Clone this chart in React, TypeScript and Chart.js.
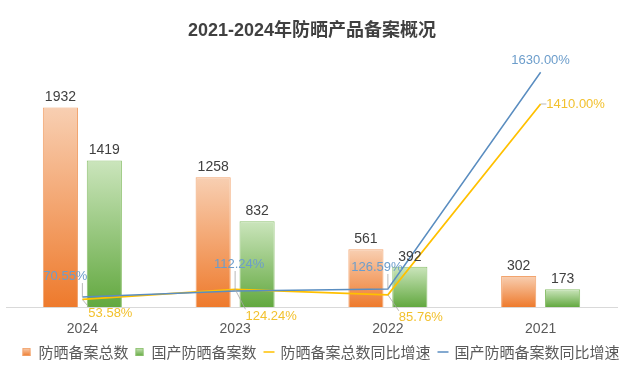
import React, { useEffect, useRef } from 'react';
import { Chart, registerables } from 'chart.js';

Chart.register(...registerables);

// ---------------- data ----------------
const categories = ['2024', '2023', '2022', '2021'];
const totalFilings = [1932, 1258, 561, 302];
const domesticFilings = [1419, 832, 392, 173];
const totalGrowth = [53.58, 124.24, 85.76, 1410.0];
const domesticGrowth = [70.55, 112.24, 126.59, 1630.0];
const seriesNames = ['防晒备案总数', '国产防晒备案数', '防晒备案总数同比增速', '国产防晒备案数同比增速'];
const titleText = '2021-2024年防晒产品备案概况';

// ---------------- styles ----------------
const ORANGE_LIGHT = '#F8CFB2';
const ORANGE_DARK = '#EE7A2C';
const ORANGE_BORDER = '#F2A46E';
const GREEN_LIGHT = '#CBE5BC';
const GREEN_DARK = '#62A83F';
const GREEN_BORDER = '#8DC16F';
const YELLOW = '#FFC000';
const BLUE = '#5A8DC0';
const YELLOW_TEXT = '#F2C12E';
const BLUE_TEXT = '#6C9DCB';
const LATIN = '"Liberation Sans", "Noto Sans CJK SC", sans-serif';
const CJK = '"Noto Sans CJK SC", "Liberation Sans", sans-serif';

// label offsets (dx, dy) of the percent labels from their points
const totalGrowthLabelOffset = [[28, 14], [36, 27], [33, 23], [35, 0]];
const domesticGrowthLabelOffset = [[-17, -21], [4, -27], [-11, -22], [0, -12]];

function barGradient(light: string, dark: string) {
  return (c: any) => {
    const chart = c.chart;
    const scale = chart.scales && chart.scales.y;
    if (c.type !== 'data' || !scale || !chart.chartArea) return dark;
    const v = c.raw as number;
    const top = scale.getPixelForValue(v);
    const bottom = scale.getPixelForValue(0);
    if (!isFinite(top) || !isFinite(bottom) || top === bottom) return dark;
    const g = chart.ctx.createLinearGradient(0, top, 0, bottom);
    g.addColorStop(0, light);
    g.addColorStop(1, dark);
    return g;
  };
}

const labelPlugin = {
  id: 'customLabels',
  afterDatasetsDraw(chart: any) {
    const ctx = chart.ctx;
    ctx.save();
    // bar value labels
    ctx.font = `14px ${LATIN}`;
    ctx.fillStyle = '#404040';
    ctx.textAlign = 'center';
    ctx.textBaseline = 'middle';
    [0, 1].forEach((di) => {
      const meta = chart.getDatasetMeta(di);
      const values = di === 0 ? totalFilings : domesticFilings;
      meta.data.forEach((el: any, j: number) => {
        ctx.fillText(String(values[j]), el.x, el.y - 10);
      });
    });
    // percent labels
    const drawPct = (di: number, values: number[], offs: number[][], color: string) => {
      const meta = chart.getDatasetMeta(di);
      meta.data.forEach((el: any, j: number) => {
        const txt = values[j].toFixed(2) + '%';
        ctx.font = `13px ${LATIN}`;
        const w = ctx.measureText(txt).width;
        const cx = el.x + offs[j][0];
        const cy = el.y + offs[j][1];
        const x0 = cx - w / 2, x1 = cx + w / 2, y0 = cy - 7, y1 = cy + 7;
        const px = Math.min(Math.max(el.x, x0), x1);
        const py = Math.min(Math.max(el.y, y0), y1);
        if (Math.hypot(px - el.x, py - el.y) > 5) {
          ctx.strokeStyle = '#A6A6A6';
          ctx.lineWidth = 0.8;
          ctx.beginPath();
          ctx.moveTo(el.x, el.y);
          ctx.lineTo(px, py);
          ctx.stroke();
        }
        ctx.fillStyle = color;
        ctx.textAlign = 'center';
        ctx.textBaseline = 'middle';
        ctx.fillText(txt, cx, cy);
      });
    };
    drawPct(2, totalGrowth, totalGrowthLabelOffset, YELLOW_TEXT);
    drawPct(3, domesticGrowth, domesticGrowthLabelOffset, BLUE_TEXT);
    ctx.restore();
  },
  afterDraw(chart: any) {
    const ctx = chart.ctx;
    ctx.save();
    // title
    ctx.font = `bold 18px ${LATIN}`;
    ctx.fillStyle = '#404040';
    ctx.textAlign = 'center';
    ctx.textBaseline = 'middle';
    ctx.fillText(titleText, 312, 31);

    // legend
    ctx.font = `15px ${CJK}`;
    const kinds = ['box', 'box', 'line', 'line'];
    const colors = [ORANGE_DARK, GREEN_DARK, YELLOW, BLUE];
    const markerW = (k: string) => (k === 'box' ? 8 : 11);
    const markerGap = (k: string) => (k === 'box' ? 8 : 6);
    const itemGap = 7;
    const widths = seriesNames.map((n, i) => markerW(kinds[i]) + markerGap(kinds[i]) + ctx.measureText(n).width);
    const total = widths.reduce((a, b) => a + b, 0) + itemGap * (seriesNames.length - 1);
    let x = 321 - total / 2;
    const y = 352;
    seriesNames.forEach((n, i) => {
      const k = kinds[i];
      if (k === 'box') {
        const g = ctx.createLinearGradient(0, y - 4, 0, y + 4);
        g.addColorStop(0, i === 0 ? ORANGE_LIGHT : GREEN_LIGHT);
        g.addColorStop(1, colors[i]);
        ctx.fillStyle = g;
        ctx.fillRect(x, y - 4, 8, 8);
        ctx.strokeStyle = i === 0 ? ORANGE_BORDER : GREEN_BORDER;
        ctx.lineWidth = 0.8;
        ctx.strokeRect(x + 0.5, y - 3.5, 7, 7);
      } else {
        ctx.strokeStyle = colors[i];
        ctx.lineWidth = 1.5;
        ctx.beginPath();
        ctx.moveTo(x, y);
        ctx.lineTo(x + 11, y);
        ctx.stroke();
      }
      const tx = x + markerW(k) + markerGap(k);
      ctx.fillStyle = '#595959';
      ctx.textAlign = 'left';
      ctx.textBaseline = 'middle';
      ctx.fillText(n, tx, y);
      x += widths[i] + itemGap;
    });
    ctx.restore();
  },
};

export default function App() {
  const ref = useRef<HTMLCanvasElement | null>(null);
  useEffect(() => {
    if (!ref.current) return;
    const chart = new Chart(ref.current, {
      type: 'bar',
      data: {
        labels: categories,
        datasets: [
          {
            type: 'bar',
            label: seriesNames[0],
            data: totalFilings,
            backgroundColor: barGradient(ORANGE_LIGHT, ORANGE_DARK) as any,
            borderColor: ORANGE_BORDER,
            borderWidth: 1,
            yAxisID: 'y',
            order: 2,
            categoryPercentage: 0.575,
            barPercentage: 0.8,
          },
          {
            type: 'bar',
            label: seriesNames[1],
            data: domesticFilings,
            backgroundColor: barGradient(GREEN_LIGHT, GREEN_DARK) as any,
            borderColor: GREEN_BORDER,
            borderWidth: 1,
            yAxisID: 'y',
            order: 2,
            categoryPercentage: 0.575,
            barPercentage: 0.8,
          },
          {
            type: 'line',
            label: seriesNames[2],
            data: totalGrowth,
            borderColor: YELLOW,
            backgroundColor: YELLOW,
            borderWidth: 1.75,
            pointRadius: 0,
            tension: 0,
            yAxisID: 'y1',
            order: 1,
          } as any,
          {
            type: 'line',
            label: seriesNames[3],
            data: domesticGrowth,
            borderColor: BLUE,
            backgroundColor: BLUE,
            borderWidth: 1.5,
            pointRadius: 0,
            tension: 0,
            yAxisID: 'y1',
            order: 0,
          } as any,
        ],
      },
      options: {
        responsive: false,
        animation: false,
        layout: { padding: { top: 55, bottom: 19, left: 6, right: 23 } },
        plugins: {
          legend: { display: false },
          title: { display: false },
          tooltip: { enabled: false },
        },
        scales: {
          x: {
            type: 'category',
            grid: { display: false, drawTicks: false },
            border: { display: true, color: '#D9D9D9', width: 1 },
            ticks: { color: '#595959', font: { size: 14, family: LATIN }, padding: 14 },
          },
          y: { display: false, min: 0, max: 2440 },
          y1: { display: false, min: 0, max: 1750, position: 'right' },
        },
      },
      plugins: [labelPlugin],
    });
    return () => chart.destroy();
  }, []);
  return (
    <div style={{ position: 'fixed', left: 0, top: 0, width: 640, height: 371, background: '#fff' }}>
      <canvas ref={ref} width={640} height={371} style={{ width: 640, height: 371, display: 'block' }} />
    </div>
  );
}
